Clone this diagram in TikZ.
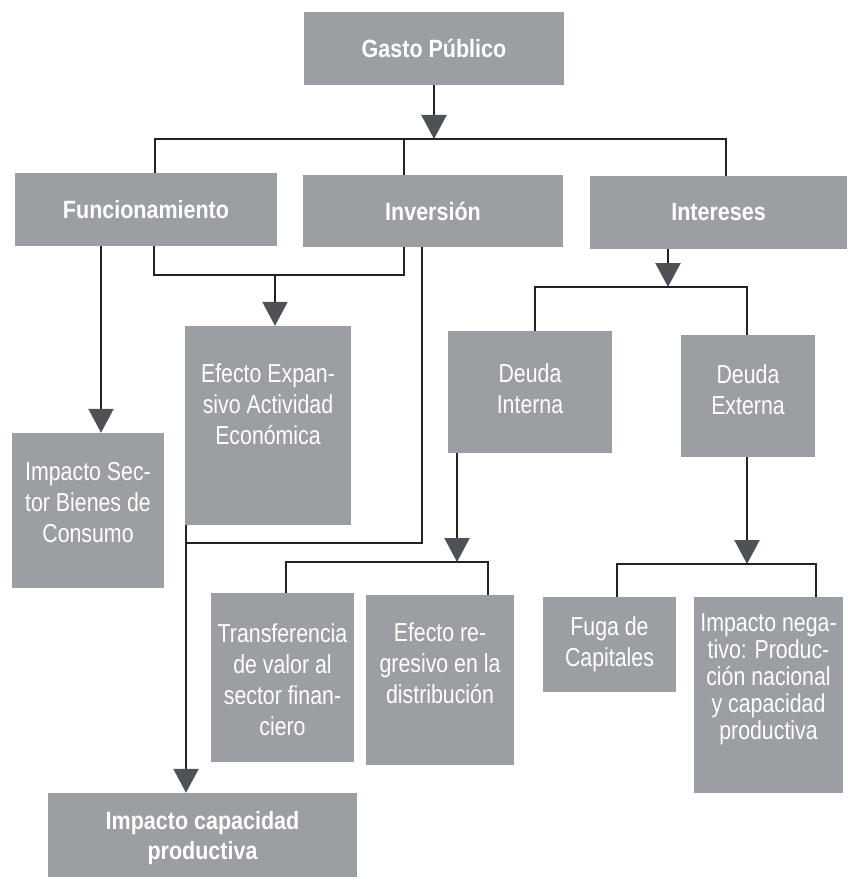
\documentclass[tikz,border=0pt]{standalone}
\usepackage{fontspec}
\setmainfont{Liberation Sans}
\newfontfamily\boxfont[FakeStretch=0.82]{Liberation Sans}
\newfontfamily\boxbold[FakeStretch=0.86]{Liberation Sans}
\usetikzlibrary{arrows.meta,calc}
\definecolor{boxgray}{RGB}{155,158,162}
\definecolor{linecol}{RGB}{35,35,35}
\definecolor{tipgray}{RGB}{78,81,85}
\tikzset{
  box/.style={rectangle, fill=boxgray, draw=none, inner sep=0pt},
  txt/.style={text=white, align=center, inner sep=0pt, font=\boxfont\fontsize{26}{31}\selectfont},
  btxt/.style={text=white, align=center, inner sep=0pt, font=\boxbold\bfseries\fontsize{25}{30}\selectfont},
  line/.style={draw=linecol, line width=2.2pt, line join=miter},
  arr/.style={line, -{Triangle[width=25pt,length=24pt,fill=tipgray,color=tipgray]}}
}
\begin{document}
\begin{tikzpicture}[x=1pt,y=-1pt]
\fill[white] (0,0) rectangle (847,877);
\useasboundingbox (0,0) rectangle (847,877);

% boxes
\node[box, minimum width=260pt, minimum height=73pt] (gasto) at (434,48.5) {};
\node[box, minimum width=262pt, minimum height=73pt] (func) at (146,209.5) {};
\node[box, minimum width=260pt, minimum height=72pt] (inv) at (433,211) {};
\node[box, minimum width=257pt, minimum height=73pt] (inter) at (718.5,212.5) {};
\node[box, minimum width=152pt, minimum height=155pt] (isbc) at (88,510.5) {};
\node[box, minimum width=166pt, minimum height=199pt] (efx) at (268,425.5) {};
\node[box, minimum width=164pt, minimum height=122pt] (dint) at (530,392) {};
\node[box, minimum width=134pt, minimum height=122pt] (dext) at (748,396) {};
\node[box, minimum width=143pt, minimum height=169pt] (trans) at (282.5,677.5) {};
\node[box, minimum width=148pt, minimum height=170pt] (efreg) at (440,680) {};
\node[box, minimum width=133pt, minimum height=95pt] (fuga) at (609.5,644.5) {};
\node[box, minimum width=149pt, minimum height=196pt] (ineg) at (768.5,695) {};
\node[box, minimum width=309pt, minimum height=84pt] (icap) at (202.5,835) {};

% texts
\node[btxt] (gastoT) at (gasto.center) {Gasto Público};
\node[btxt] (funcT) at (func.center) {Funcionamiento};
\node[btxt] (invT) at (inv.center) {Inversión};
\node[btxt] (interT) at (inter.center) {Intereses};
\node[txt, yshift=8pt] (isbcT) at (isbc.center) {Impacto Sec-\\tor Bienes de\\Consumo};
\node[txt, yshift=21pt] (efxT) at (efx.center) {Efecto Expan-\\sivo Actividad\\Económica};
\node[txt, yshift=3pt] (dintT) at (dint.center) {Deuda\\Interna};
\node[txt, yshift=6pt] (dextT) at (dext.center) {Deuda\\Externa};
\node[txt, yshift=-2pt] (transT) at (trans.center) {Transferencia\\de valor al\\sector finan-\\ciero};
\node[txt, yshift=17pt] (efregT) at (efreg.center) {Efecto re-\\gresivo en la\\distribución};
\node[txt] (fugaT) at (fuga.center) {Fuga de\\Capitales};
\node[txt, yshift=16pt, font=\boxfont\fontsize{26}{27}\selectfont] (inegT) at (ineg.center) {Impacto nega-\\tivo: Produc-\\ción nacional\\y capacidad\\productiva};
\node[btxt, yshift=-3pt] (icapT) at (icap.center) {Impacto capacidad\\productiva};

% connectors
\coordinate (j1) at (434,139);
\draw[arr] (gasto) -- (j1);
\draw[line] ([xshift=9pt]func.north) |- (j1) -| ([xshift=7.5pt]inter.north);
\draw[line] ([xshift=-29pt]inv.north) -- ([xshift=-29pt]inv.north |- j1);

\draw[arr] ([xshift=-45pt]func.south) -- ([xshift=-45pt]func.south |- isbc.north);

\coordinate (j2) at (275,275);
\draw[line] ([xshift=8pt]func.south) |- (j2) -| ([xshift=-29pt]inv.south);
\draw[arr] (j2) -- (j2 |- efx.north);

\coordinate (k1) at (186,543);
\draw[arr] ([xshift=-11pt]inv.south) |- (k1) -- (k1 |- icap.north);
\draw[line] (efx.south -| k1) -- (k1);

\coordinate (j3) at (668,287);
\draw[arr] (inter.south -| j3) -- (j3);
\draw[line] ([xshift=5pt]dint.north) |- (j3) -| ([xshift=-1pt]dext.north);

\coordinate (j4) at (457,562);
\draw[arr] (dint.south -| j4) -- (j4);
\draw[line] ([xshift=3.5pt]trans.north) |- (j4) -| ([xshift=48pt]efreg.north);

\coordinate (j5) at (747,564);
\draw[arr] (dext.south -| j5) -- (j5);
\draw[line] ([xshift=7.5pt]fuga.north) |- (j5) -| ([xshift=47.5pt]ineg.north);
\end{tikzpicture}
\end{document}
